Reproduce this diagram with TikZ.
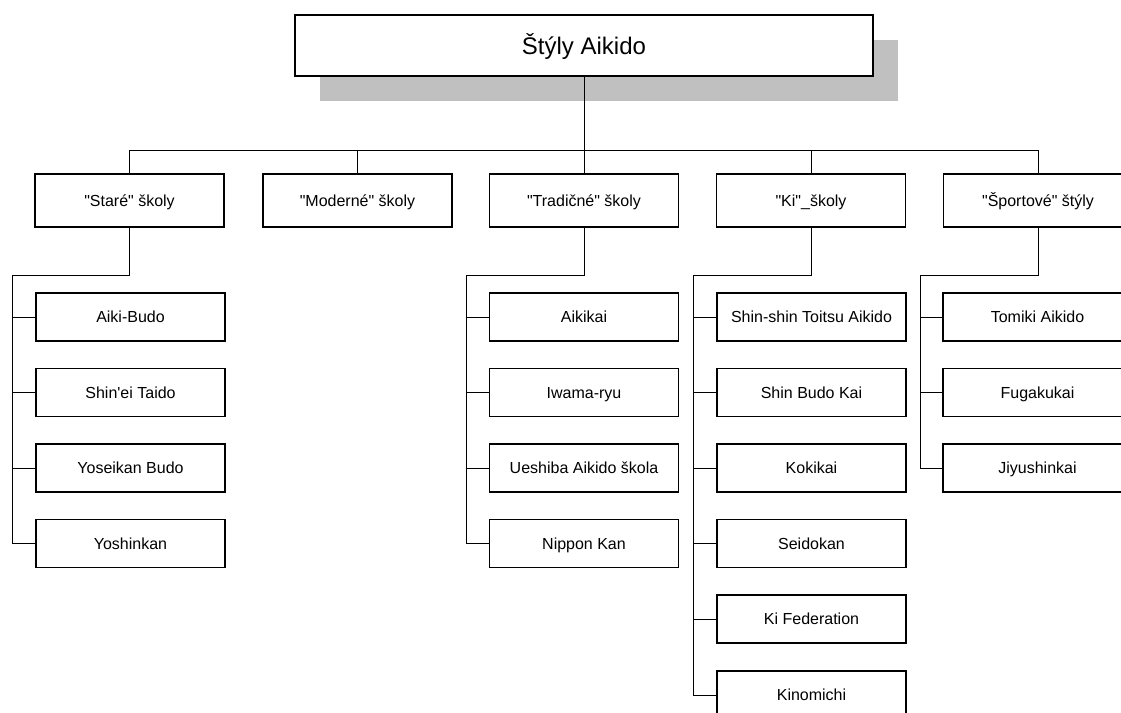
\documentclass[tikz,border=0pt]{standalone}
\usepackage{fontspec}
\newfontfamily\arialfont{Liberation Sans}
\usetikzlibrary{calc}
\definecolor{shadowgray}{HTML}{C0C0C0}
\newcommand{\dq}{\symbol{34}}
\newcommand{\sq}{\symbol{39}}
\tikzset{
  box/.style={draw=black, fill=white, line width=1.6pt, inner sep=0pt, outer sep=0pt,
    minimum width=189pt, align=center, font=\arialfont\fontsize{16}{19}\selectfont,
    text height=11.5pt, text depth=0pt},
  headbox/.style={box, minimum height=53pt},
  leafbox/.style={box, minimum height=48pt},
  topbox/.style={box, minimum width=578pt, minimum height=61pt, font=\arialfont\fontsize{24}{28}\selectfont,
    text height=17.2pt, text depth=0pt},
  shadowbox/.style={fill=shadowgray, draw=none, inner sep=0pt, outer sep=0pt,
    minimum width=578pt, minimum height=61pt},
  conn/.style={draw=black, line width=1pt},
}
\begin{document}
\begin{tikzpicture}[x=1pt, y=-1pt]
\useasboundingbox (0,0) rectangle (1121,712);
\clip (0,0) rectangle (1121,712);
\fill[white] (0,0) rectangle (1121,712);

% top box with shadow
\node[shadowbox] (topsh) at (609,70.5) {};
\node[topbox] (top) at (584,45.5) {Štýly Aikido};

% level 1
\node[headbox] (s1) at (129.5,200.5) {\dq Staré\dq{} školy};
\node[headbox] (s2) at (357.5,200.5) {\dq Moderné\dq{} školy};
\node[headbox] (s3) at (584,200.5) {\dq Tradičné\dq{} školy};
\node[headbox] (s4) at (811,200.5) {\dq Ki\dq\_školy};
\node[headbox] (s5) at (1038,200.5) {\dq Športové\dq{} štýly};

% leaves of s1
\node[leafbox] (a1) at (130.5,317) {Aiki-Budo};
\node[leafbox] (a2) at (130.5,392.5) {Shin\sq ei Taido};
\node[leafbox] (a3) at (130.5,468) {Yoseikan Budo};
\node[leafbox] (a4) at (130.5,543.5) {Yoshinkan};

% leaves of s3
\node[leafbox] (b1) at (584,317) {Aikikai};
\node[leafbox] (b2) at (584,392.5) {Iwama-ryu};
\node[leafbox] (b3) at (584,468) {Ueshiba Aikido škola};
\node[leafbox] (b4) at (584,543.5) {Nippon Kan};

% leaves of s4
\node[leafbox] (c1) at (811.5,317) {Shin-shin Toitsu Aikido};
\node[leafbox] (c2) at (811.5,392.5) {Shin Budo Kai};
\node[leafbox] (c3) at (811.5,468) {Kokikai};
\node[leafbox] (c4) at (811.5,543.5) {Seidokan};
\node[leafbox] (c5) at (811.5,619) {Ki Federation};
\node[leafbox] (c6) at (811.5,695) {Kinomichi};

% leaves of s5
\node[leafbox] (d1) at (1037.5,317) {Tomiki Aikido};
\node[leafbox] (d2) at (1037.5,392.5) {Fugakukai};
\node[leafbox] (d3) at (1037.5,468) {Jiyushinkai};

% bus
\coordinate (bus) at (0,150);
\draw[conn] (top.south) -- (top.south |- bus);
\draw[conn] (s1.north) -- (s1.north |- bus) -- (s5.north |- bus) -- (s5.north);
\draw[conn] (s2.north) -- (s2.north |- bus);
\draw[conn] (s3.north) -- (s3.north |- bus);
\draw[conn] (s4.north) -- (s4.north |- bus);

% trunks
\coordinate (j1) at (12,275);
\coordinate (j3) at (466,275);
\coordinate (j4) at (693,275);
\coordinate (j5) at (920,275);

\draw[conn] (s1.south) |- (j1) -- (j1 |- a4.west) -- (a4.west);
\foreach \n in {a1,a2,a3} \draw[conn] (j1 |- \n.west) -- (\n.west);

\draw[conn] (s3.south) |- (j3) -- (j3 |- b4.west) -- (b4.west);
\foreach \n in {b1,b2,b3} \draw[conn] (j3 |- \n.west) -- (\n.west);

\draw[conn] (s4.south) |- (j4) -- (j4 |- c6.west) -- (c6.west);
\foreach \n in {c1,c2,c3,c4,c5} \draw[conn] (j4 |- \n.west) -- (\n.west);

\draw[conn] (s5.south) |- (j5) -- (j5 |- d3.west) -- (d3.west);
\foreach \n in {d1,d2} \draw[conn] (j5 |- \n.west) -- (\n.west);
\end{tikzpicture}
\end{document}
